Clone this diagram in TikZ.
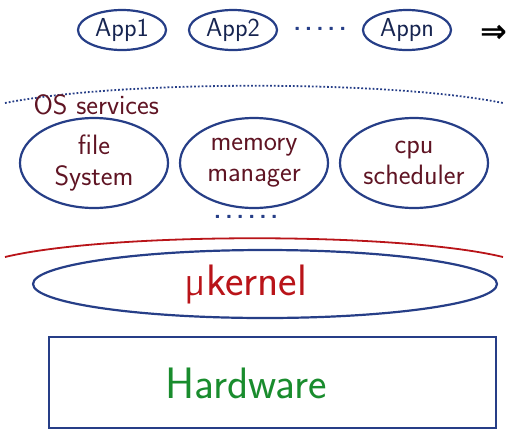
\documentclass[tikz,border=0pt]{standalone}
\usepackage{fontspec}
\usepackage{tikz}
\usetikzlibrary{shapes.geometric,positioning}
\newfontfamily\symfont{DejaVu Sans}
\definecolor{mBlue}{RGB}{38,62,135}
\definecolor{mMaroon}{RGB}{95,20,35}
\definecolor{mRed}{RGB}{185,20,25}
\definecolor{mGreen}{RGB}{25,140,45}
\begin{document}
\begin{tikzpicture}[x=1pt, y=-1pt, every node/.style={font=\sffamily},
    appbox/.style={ellipse, draw=mBlue, line width=2.2pt, minimum width=88pt, minimum height=40pt, inner sep=0pt, text=mBlue!60!black, font=\sffamily\fontsize{26}{26}\selectfont},
    servbox/.style={ellipse, draw=mBlue, line width=2.2pt, minimum width=148pt, minimum height=90pt, inner sep=0pt, align=center, text=mMaroon, font=\sffamily\fontsize{28}{31}\selectfont},
    dotsrow/.style={text=mBlue, font=\sffamily\bfseries\fontsize{24}{24}\selectfont},
    bigtext/.style={font=\sffamily\fontsize{44}{44}\selectfont}]
    \useasboundingbox (0,0) rectangle (509,432);
    % Applications
    \node[appbox] (app1) at (122,30) {App1};
    \node[appbox] (app2) at (233,30) {App2};
    \node[appbox] (appn) at (407,30) {Appn};
    \node[dotsrow] (appdots) at (320,29) {.\,.\,.\,.\,.};
    \node[font=\symfont\bfseries\fontsize{32}{32}\selectfont] (imp) at (494,34) {⇒};
    % OS services layer
    \coordinate (osl) at (5,103);
    \coordinate (osr) at (503,103);
    \draw[mBlue, line width=1.8pt, dotted] (osl) .. controls (120,80) and (390,80) .. (osr);
    \node[text=mMaroon, font=\sffamily\fontsize{28}{28}\selectfont, anchor=west] (os) at (30,105) {OS services};
    \node[servbox] (fs) at (94,163) {file\\System};
    \node[servbox] (mm) at (254,163) {memory\\manager};
    \node[servbox] (cpu) at (414,163) {cpu\\scheduler};
    \node[dotsrow] (servdots) at (246,217) {.\,.\,.\,.\,.\,.};
    % Microkernel
    \coordinate (kl) at (5,257);
    \coordinate (kr) at (503,257);
    \draw[mRed, line width=1.8pt] (kl) .. controls (110,232) and (400,232) .. (kr);
    \node[ellipse, draw=mBlue, line width=2.2pt, minimum width=464pt, minimum height=68pt] (kernel) at (265,284) {};
    \node[bigtext, text=mRed] (kerneltxt) at (246,284) {µkernel};
    % Hardware
    \node[draw=mBlue, line width=2.2pt, minimum width=447pt, minimum height=91pt] (hw) at (272.5,382.5) {};
    \node[bigtext, text=mGreen] (hwtxt) at (246,383) {Hardware};
\end{tikzpicture}
\end{document}
